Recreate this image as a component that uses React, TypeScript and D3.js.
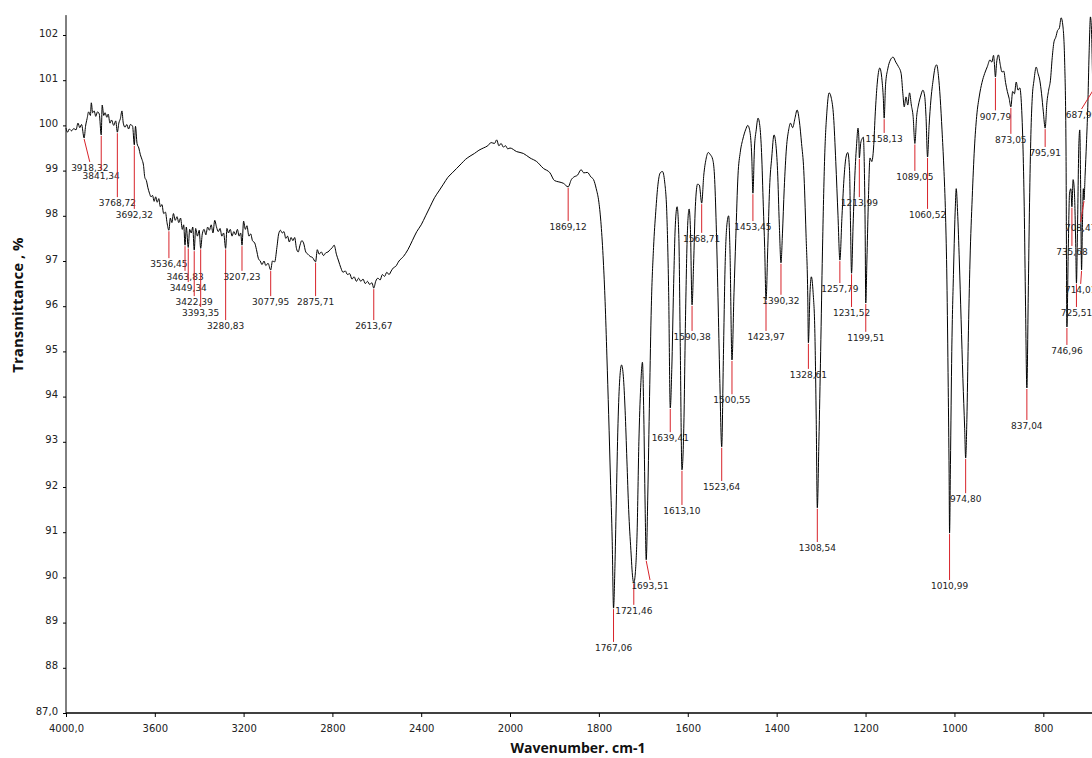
import { useEffect, useRef } from "react";
import * as d3 from "d3";

const WIDTH = 1092;
const HEIGHT = 758;

// wavenumber (cm-1), transmittance (%)
const SPECTRUM: [number, number][] = [
  [4000, 99.94], [3993, 99.85], [3985, 99.92], [3975, 99.88], [3965, 99.93], [3955, 99.9],
  [3946, 100.05], [3938, 99.95], [3930, 100.02], [3918.32, 99.72], [3912, 99.98], [3905, 100.15],
  [3898, 100.3], [3890, 100.22], [3886, 100.5], [3880, 100.28], [3873, 100.32], [3866, 100.2],
  [3858, 100.3], [3850, 100.25], [3841.34, 99.79], [3837, 100.45], [3830, 100.22], [3824, 100.28],
  [3816, 100.18], [3810, 100.25], [3802, 100.05], [3795, 100.12], [3785, 100.0], [3776, 100.1],
  [3768.72, 99.85], [3762, 100.05], [3755, 100.15], [3748, 100.32], [3742, 100.05], [3734, 99.96],
  [3726, 100.02], [3718, 99.92], [3710, 100.02], [3700, 99.98], [3692.32, 99.57], [3687, 99.98],
  [3680, 99.6], [3672, 99.5], [3665, 99.35], [3658, 99.25], [3651, 99.12], [3645, 98.85],
  [3638, 98.78], [3631, 98.62], [3624, 98.5], [3617, 98.42], [3610, 98.45], [3603, 98.32],
  [3596, 98.42], [3589, 98.3], [3582, 98.38], [3575, 98.2], [3568, 98.25], [3560, 98.05],
  [3552, 98.08], [3545, 97.85], [3536.45, 97.68], [3530, 97.95], [3523, 97.85], [3516, 98.05],
  [3508, 97.9], [3500, 97.98], [3492, 97.85], [3484, 97.95], [3476, 97.7], [3470, 97.8],
  [3463.83, 97.35], [3458, 97.75], [3449.34, 97.3], [3443, 97.7], [3436, 97.62], [3429, 97.75],
  [3422.39, 97.24], [3416, 97.72], [3408, 97.55], [3400, 97.68], [3393.35, 97.28], [3386, 97.6],
  [3378, 97.7], [3370, 97.58], [3362, 97.75], [3354, 97.68], [3346, 97.8], [3338, 97.62],
  [3330, 97.9], [3322, 97.75], [3314, 97.65], [3306, 97.72], [3298, 97.55], [3290, 97.62],
  [3280.83, 97.28], [3275, 97.72], [3268, 97.62], [3260, 97.7], [3252, 97.55], [3244, 97.65],
  [3236, 97.58], [3228, 97.7], [3220, 97.55], [3213, 97.62], [3207.23, 97.35], [3200, 97.88],
  [3192, 97.7], [3185, 97.78], [3176, 97.55], [3168, 97.6], [3160, 97.45], [3150, 97.4],
  [3142, 97.25], [3133, 97.05], [3125, 97.0], [3117, 96.92], [3108, 97.0], [3100, 96.9],
  [3090, 96.95], [3077.95, 96.8], [3070, 97.0], [3060, 96.98], [3050, 97.3], [3042, 97.6],
  [3034, 97.68], [3026, 97.62], [3018, 97.65], [3010, 97.5], [3002, 97.55], [2994, 97.42],
  [2986, 97.52], [2978, 97.45], [2970, 97.52], [2962, 97.28], [2954, 97.2], [2946, 97.35],
  [2938, 97.45], [2930, 97.4], [2920, 97.2], [2910, 97.15], [2900, 97.1], [2890, 97.08],
  [2875.71, 96.98], [2868, 97.25], [2860, 97.15], [2850, 97.2], [2840, 97.12], [2830, 97.18],
  [2820, 97.2], [2810, 97.25], [2800, 97.3], [2792, 97.35], [2782, 97.15], [2772, 97.0],
  [2762, 96.85], [2752, 96.75], [2742, 96.78], [2732, 96.7], [2722, 96.72], [2712, 96.6],
  [2702, 96.65], [2692, 96.55], [2682, 96.62], [2672, 96.55], [2662, 96.6], [2652, 96.5],
  [2642, 96.55], [2632, 96.48], [2622, 96.52], [2613.67, 96.4], [2605, 96.55], [2595, 96.62],
  [2585, 96.58], [2575, 96.7], [2565, 96.66], [2555, 96.75], [2545, 96.7], [2535, 96.78],
  [2525, 96.85], [2515, 96.88], [2500, 97.0], [2480, 97.1], [2460, 97.25], [2440, 97.45],
  [2420, 97.65], [2400, 97.8], [2380, 98.0], [2360, 98.2], [2340, 98.4], [2320, 98.55],
  [2300, 98.7], [2280, 98.85], [2260, 98.95], [2240, 99.05], [2220, 99.15], [2200, 99.25],
  [2180, 99.32], [2160, 99.38], [2140, 99.45], [2120, 99.5], [2100, 99.55], [2085, 99.62],
  [2070, 99.6], [2060, 99.68], [2050, 99.55], [2040, 99.6], [2030, 99.52], [2020, 99.55],
  [2010, 99.48], [2000, 99.5],
  [1985, 99.42], [1970, 99.38], [1955, 99.28], [1940, 99.2], [1925, 99.05], [1910, 98.95],
  [1900, 98.78], [1890, 98.75], [1880, 98.72], [1869.12, 98.64], [1862, 98.8], [1856, 98.86],
  [1848, 98.9], [1840, 99.02], [1834, 98.95], [1826, 98.96], [1818, 98.86], [1812, 98.8],
  [1806, 98.6], [1800, 98.3], [1795, 97.8], [1790, 97.0], [1786, 96.1], [1782, 94.9],
  [1778, 93.6], [1774, 92.2], [1770, 90.8], [1767.06, 89.32], [1764, 90.2], [1761, 91.6],
  [1757, 93.4], [1753, 94.4], [1749, 94.7], [1745, 94.45], [1741, 93.7], [1737, 92.6],
  [1733, 91.5], [1728, 90.6], [1724, 90.0], [1721.46, 89.88], [1718, 90.1], [1714, 91.0],
  [1710, 93.0], [1706, 94.2], [1702, 94.76], [1699, 93.6], [1696, 91.6], [1693.51, 90.39],
  [1690, 91.8], [1686, 94.0], [1682, 96.0], [1677, 97.3], [1672, 98.1], [1667, 98.7],
  [1662, 98.95], [1657, 98.98], [1652, 98.75], [1647, 98.0], [1643, 96.3], [1639.41, 93.75],
  [1636, 94.6], [1632, 96.4], [1628, 97.8], [1624, 98.2], [1620, 97.5], [1617, 95.2],
  [1613.1, 92.38], [1609, 93.3], [1605, 95.8], [1601, 97.6], [1597, 98.15], [1594, 97.7],
  [1590.38, 96.03], [1587, 96.9], [1583, 98.2], [1578, 98.7], [1574, 98.68], [1568.71, 98.28],
  [1564, 98.9], [1559, 99.25], [1554, 99.4], [1549, 99.35], [1544, 99.25], [1540, 98.9],
  [1536, 97.8], [1532, 96.2], [1528, 94.4], [1523.64, 92.89], [1520, 94.8], [1516, 96.9],
  [1512, 97.8], [1508, 98.0], [1505, 97.2], [1500.55, 94.81], [1496, 96.3], [1492, 97.5],
  [1487, 98.9], [1482, 99.4], [1476, 99.7], [1470, 99.9], [1465, 100.0], [1460, 99.85],
  [1456, 99.3], [1453.45, 98.5], [1450, 99.5], [1446, 99.9], [1442, 100.16], [1438, 100.0],
  [1434, 99.4], [1430, 98.2], [1427, 97.3], [1423.97, 96.14], [1420, 97.3], [1416, 98.6],
  [1411, 99.3], [1406, 99.79], [1402, 99.6], [1398, 99.0], [1394, 97.8], [1390.32, 96.96],
  [1387, 97.6], [1383, 98.6], [1378, 99.5], [1373, 99.9], [1369, 100.05], [1364, 99.95],
  [1359, 100.15], [1354, 100.34], [1349, 100.1], [1344, 99.6], [1339, 99.0], [1334, 97.6],
  [1330, 96.2], [1328.61, 95.19], [1325, 96.3], [1322, 96.65], [1318, 96.3], [1314, 95.4],
  [1311, 93.5], [1308.54, 91.54], [1305, 93.0], [1301, 95.0], [1297, 97.2], [1292, 99.3],
  [1287, 100.3], [1282, 100.72], [1277, 100.6], [1272, 100.2], [1267, 99.2], [1262, 98.0],
  [1257.79, 97.02], [1253, 98.0], [1248, 98.9], [1244, 99.3], [1240, 99.4], [1236, 99.0],
  [1234, 97.9], [1231.52, 96.73], [1228, 97.8], [1224, 98.9], [1220, 99.6], [1217, 99.94],
  [1215, 99.7], [1213.99, 99.28], [1211, 99.6], [1208, 99.7], [1205, 99.74], [1203, 99.2],
  [1201, 97.8], [1199.51, 96.07], [1197, 97.0], [1194, 98.2], [1190, 99.28], [1186, 99.2],
  [1182, 99.5], [1178, 100.3], [1174, 100.9], [1168, 101.27], [1163, 101.0], [1160, 100.6],
  [1158.13, 100.16], [1155, 100.9], [1150, 101.25], [1144, 101.45], [1138, 101.51], [1132, 101.4],
  [1126, 101.3], [1120, 101.15], [1116, 100.7], [1113, 100.41], [1109, 100.63], [1105, 100.45],
  [1101, 100.72], [1097, 100.45], [1093, 100.2], [1089.05, 99.6], [1085, 100.2], [1081, 100.45],
  [1076, 100.65], [1071, 100.78], [1067, 100.65], [1064, 100.2], [1060.52, 99.3], [1057, 100.0],
  [1053, 100.56], [1048, 101.0], [1043, 101.3], [1040, 101.34], [1036, 101.1], [1032, 100.6],
  [1028, 99.9], [1024, 99.1], [1020, 98.0], [1017, 96.6], [1014, 94.2], [1012, 92.3],
  [1010.99, 90.98], [1009, 92.5], [1006, 95.0], [1002, 96.8], [998, 98.2], [996, 98.6],
  [993, 98.1], [989, 97.0], [985, 95.7], [981, 94.4], [977, 93.3], [974.8, 92.64],
  [972, 93.5], [969, 95.2], [965, 97.0], [960, 98.4], [955, 99.5], [950, 100.2],
  [944, 100.65], [938, 100.95], [932, 101.15], [926, 101.3], [920, 101.45], [916, 101.4],
  [912, 101.55], [910, 101.35], [907.79, 101.07], [905, 101.4], [901, 101.56], [897, 101.35],
  [893, 101.18], [889, 101.2], [885, 100.95], [881, 100.75], [877, 100.6], [873.05, 100.41],
  [869, 100.75], [865, 100.7], [861, 100.96], [857, 100.78], [853, 100.83], [849, 100.41],
  [846, 99.6], [843, 98.2], [840, 96.0], [837.04, 94.19], [834, 96.2], [831, 98.3],
  [828, 99.8], [825, 100.6], [821, 101.0], [816, 101.29], [812, 101.15], [808, 101.0],
  [804, 100.7], [800, 100.3], [795.91, 99.94], [792, 100.5], [788, 100.78], [784, 101.0],
  [780, 101.5], [776, 101.85], [772, 101.95], [768, 102.1], [764, 102.15], [760, 102.38],
  [756, 102.2], [752, 101.4], [749, 99.5], [746.96, 95.54], [744, 97.2], [741, 98.5],
  [738, 98.6], [735.68, 98.2], [733, 98.8], [730, 98.5], [727, 97.3], [725.51, 96.51],
  [723, 97.8], [720, 99.6], [718, 99.9], [716, 98.6], [714.01, 96.8], [712, 97.8],
  [710, 98.6], [708.47, 98.35], [706, 98.9], [703, 99.6], [700, 100.4], [697, 101.6],
  [694, 102.4], [691, 101.9], [689, 101.0], [687.99, 100.8], [686, 99.8], [684, 99.0],
];

// peak wavenumber, transmittance level of its label, wavenumber of the label when it is shifted
const PEAKS: [number, number, number?][] = [
  [3918.32, 99.06, 3893], [3841.34, 98.88], [3768.72, 98.28], [3692.32, 98.02],
  [3536.45, 96.93], [3463.83, 96.65], [3449.34, 96.4], [3422.39, 96.09], [3393.35, 95.85],
  [3280.83, 95.56], [3207.23, 96.65], [3077.95, 96.09], [2875.71, 96.09], [2613.67, 95.56],
  [1869.12, 97.75], [1767.06, 88.44], [1721.46, 89.26], [1693.51, 89.81, 1685],
  [1639.41, 93.08], [1613.1, 91.47], [1590.38, 95.32], [1568.71, 97.49], [1523.64, 92.0],
  [1500.55, 93.92], [1453.45, 97.75], [1423.97, 95.32], [1390.32, 96.12], [1328.61, 94.48],
  [1308.54, 90.65], [1257.79, 96.38], [1231.52, 95.85], [1213.99, 98.28], [1199.51, 95.3],
  [1158.13, 99.7], [1089.05, 98.86], [1060.52, 98.02], [1010.99, 89.81], [974.8, 91.73],
  [907.79, 100.2], [873.05, 99.68], [837.04, 93.35], [795.91, 99.39], [746.96, 95.01],
  [735.68, 97.2], [725.51, 95.85], [714.01, 96.36, 716], [708.47, 97.73, 716], [687.99, 100.23, 714],
];

const X_TICKS = [4000, 3600, 3200, 2800, 2400, 2000, 1800, 1600, 1400, 1200, 1000, 800];
const Y_TICKS = [87, 88, 89, 90, 91, 92, 93, 94, 95, 96, 97, 98, 99, 100, 101, 102];
const Y_TOP = 102.44;

const tickFont = "'DejaVu Sans', sans-serif";
const titleFont = "'Open Sans', sans-serif";

export default function App() {
  const svgRef = useRef<SVGSVGElement>(null);

  useEffect(() => {
    if (!svgRef.current) return;
    const svg = d3.select(svgRef.current);
    svg.selectAll("*").remove();

    // the spectrometer expands the scale below 2000 cm-1
    const x = d3.scaleLinear().domain([4000, 2000, 650]).range([66, 510, 1110]);
    const y = d3.scaleLinear().domain([87, 102]).range([713, 35]);

    svg.append("rect").attr("width", WIDTH).attr("height", HEIGHT).attr("fill", "#fff");

    // Spectrum
    const line = d3.line<[number, number]>()
      .x(d => x(d[0]))
      .y(d => y(d[1]))
      .curve(d3.curveMonotoneX);

    svg.append("path")
      .datum(SPECTRUM)
      .attr("fill", "none")
      .attr("stroke", "#000")
      .attr("stroke-width", 1)
      .attr("stroke-linejoin", "round")
      .attr("d", line);

    // Peak picks
    const dip = new Map(SPECTRUM.map(d => [d[0], d[1]]));
    const picks = svg.append("g");
    PEAKS.forEach(([w, level, lw]) => {
      const px = x(w);
      const py = y(dip.get(w) ?? level);
      const lx = x(lw ?? w);
      const ly = y(level);
      picks.append("line")
        .attr("x1", px).attr("y1", py + 1)
        .attr("x2", lx).attr("y2", ly - 6)
        .attr("stroke", "#d8232a")
        .attr("stroke-width", 1);
      picks.append("text")
        .attr("x", lx).attr("y", ly)
        .attr("dy", "0.35em")
        .attr("text-anchor", "middle")
        .attr("font-family", tickFont)
        .attr("font-size", "9px")
        .attr("fill", "#222")
        .text(w.toFixed(2).replace(".", ","));
    });

    // Axes
    const yAxis = svg.append("g")
      .attr("transform", `translate(${x(4000)},0)`)
      .call(d3.axisLeft(y).tickValues(Y_TICKS).tickSize(3).tickPadding(5)
        .tickFormat(d => (d === 87 ? "87,0" : String(d))));
    yAxis.select(".domain").remove();
    yAxis.selectAll("text").attr("font-family", tickFont).attr("font-size", "10px").attr("fill", "#222").attr("dy", "0.1em");

    const xAxis = svg.append("g")
      .attr("transform", `translate(0,${y(87)})`)
      .call(d3.axisBottom(x).tickValues(X_TICKS).tickSize(4).tickPadding(8)
        .tickFormat(d => (d === 4000 ? "4000,0" : String(d))));
    xAxis.select(".domain").remove();
    xAxis.selectAll("text").attr("font-family", tickFont).attr("font-size", "10px").attr("fill", "#222");

    svg.append("line")
      .attr("x1", x(4000)).attr("x2", x(4000))
      .attr("y1", y(Y_TOP)).attr("y2", y(87))
      .attr("stroke", "#000");
    svg.append("line")
      .attr("x1", x(4000)).attr("x2", WIDTH)
      .attr("y1", y(87)).attr("y2", y(87))
      .attr("stroke", "#000")
      .attr("stroke-width", 1.5);

    // Titles
    svg.append("text")
      .attr("x", 578).attr("y", 753)
      .attr("text-anchor", "middle")
      .attr("font-family", titleFont)
      .attr("font-weight", 700)
      .attr("font-size", "14px")
      .attr("fill", "#111")
      .text("Wavenumber. cm-1");

    svg.append("text")
      .attr("transform", `translate(23,${305}) rotate(-90)`)
      .attr("text-anchor", "middle")
      .attr("font-family", titleFont)
      .attr("font-weight", 700)
      .attr("font-size", "15px")
      .attr("fill", "#111")
      .text("Transmittance , %");
  }, []);

  return (
    <div style={{ position: "absolute", left: 0, top: 0, width: WIDTH, height: HEIGHT, overflow: "hidden" }}>
      <svg ref={svgRef} width={WIDTH} height={HEIGHT} />
    </div>
  );
}
